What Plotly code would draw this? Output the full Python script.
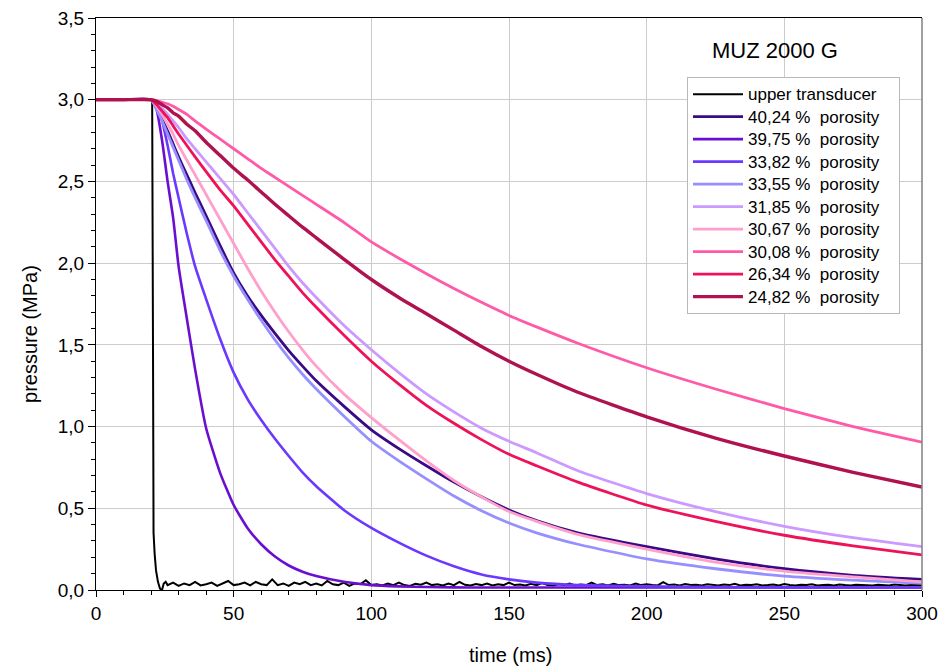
import plotly.graph_objects as go

# ---- data ----
time_ms = [0, 10, 20, 22, 24, 26, 28, 30, 33, 36, 40, 45, 50, 55, 60, 65, 70, 75, 80,
           90, 100, 110, 120, 130, 140, 150, 160, 175, 200, 225, 250, 275, 300]

p_4024 = [3.0, 3.0, 3.0, 2.95, 2.88, 2.81, 2.73, 2.65, 2.54, 2.43, 2.29, 2.11, 1.94, 1.80, 1.68, 1.57, 1.465, 1.37, 1.28,
          1.125, 0.98, 0.865, 0.76, 0.66, 0.57, 0.49, 0.425, 0.35, 0.265, 0.19, 0.13, 0.09, 0.065]
p_3975 = [3.0, 3.0, 3.0, 2.94, 2.75, 2.50, 2.28, 1.98, 1.66, 1.35, 0.99, 0.72, 0.52, 0.38, 0.28, 0.205, 0.15, 0.112, 0.085,
          0.05, 0.03, 0.022, 0.018, 0.016, 0.015, 0.015, 0.015, 0.015, 0.015, 0.015, 0.015, 0.015, 0.015]
p_3382 = [3.0, 3.0, 3.0, 2.96, 2.87, 2.72, 2.55, 2.40, 2.18, 1.98, 1.78, 1.54, 1.33, 1.17, 1.04, 0.925, 0.82, 0.72, 0.635,
          0.49, 0.38, 0.29, 0.21, 0.145, 0.095, 0.065, 0.045, 0.03, 0.022, 0.018, 0.016, 0.015, 0.015]
p_3355 = [3.0, 3.0, 3.0, 2.94, 2.87, 2.79, 2.71, 2.63, 2.51, 2.40, 2.26, 2.08, 1.92, 1.78, 1.65, 1.53, 1.42, 1.32, 1.23,
          1.065, 0.91, 0.79, 0.68, 0.575, 0.485, 0.41, 0.35, 0.28, 0.19, 0.13, 0.085, 0.06, 0.04]
p_3185 = [3.0, 3.0, 3.0, 2.98, 2.95, 2.91, 2.87, 2.83, 2.76, 2.70, 2.62, 2.52, 2.42, 2.31, 2.20, 2.09, 1.98, 1.88, 1.79,
          1.62, 1.47, 1.33, 1.20, 1.09, 0.99, 0.91, 0.84, 0.73, 0.59, 0.48, 0.39, 0.32, 0.265]
p_3067 = [3.0, 3.0, 3.0, 2.96, 2.91, 2.85, 2.79, 2.72, 2.63, 2.54, 2.42, 2.27, 2.12, 1.97, 1.83, 1.70, 1.58, 1.47, 1.37,
          1.20, 1.055, 0.92, 0.79, 0.67, 0.57, 0.48, 0.42, 0.34, 0.25, 0.17, 0.115, 0.08, 0.05]
p_3008 = [3.0, 3.0, 3.0, 2.995, 2.985, 2.975, 2.96, 2.94, 2.91, 2.87, 2.82, 2.76, 2.70, 2.64, 2.58, 2.525, 2.47, 2.415, 2.36,
          2.25, 2.13, 2.03, 1.935, 1.845, 1.76, 1.68, 1.61, 1.51, 1.36, 1.23, 1.11, 1.00, 0.905]
p_2634 = [3.0, 3.0, 3.0, 2.97, 2.93, 2.89, 2.84, 2.79, 2.72, 2.65, 2.56, 2.45, 2.35, 2.24, 2.13, 2.02, 1.92, 1.82, 1.73,
          1.56, 1.40, 1.26, 1.13, 1.02, 0.92, 0.83, 0.76, 0.66, 0.52, 0.42, 0.335, 0.27, 0.215]
p_2482 = [3.0, 3.0, 3.0, 2.99, 2.97, 2.95, 2.92, 2.90, 2.85, 2.81, 2.74, 2.66, 2.58, 2.51, 2.435, 2.36, 2.29, 2.22, 2.155,
          2.025, 1.90, 1.79, 1.69, 1.59, 1.49, 1.40, 1.32, 1.21, 1.06, 0.93, 0.82, 0.72, 0.63]

# upper transducer: fast drop, then small noisy signal
upper_t_drop = [0, 20.4, 20.7, 20.9, 21.3, 21.8, 22.5, 23.2, 23.9, 24.6, 25.3]
upper_p_drop = [3.0, 3.0, 1.5, 0.35, 0.22, 0.12, 0.05, 0.01, -0.005, 0.04, 0.05]
upper_noise = [0.03, 0.045, 0.025, 0.04, 0.03, 0.05, 0.028, 0.035, 0.045, 0.025, 0.04, 0.055, 0.03, 0.035,
               0.045, 0.028, 0.05, 0.035, 0.03, 0.065, 0.03, 0.04, 0.025, 0.045, 0.035, 0.05, 0.03, 0.04,
               0.028, 0.055, 0.035, 0.03, 0.045, 0.025, 0.04, 0.035, 0.06, 0.03,
               0.035, 0.028, 0.04, 0.03, 0.045, 0.03, 0.025, 0.038, 0.032, 0.045,
               0.03, 0.035, 0.028, 0.04, 0.03, 0.05, 0.032, 0.028, 0.036, 0.03,
               0.04, 0.028, 0.035, 0.03, 0.045, 0.03, 0.033, 0.028, 0.038, 0.03,
               0.042, 0.03, 0.028, 0.035, 0.03, 0.04, 0.028, 0.033, 0.03, 0.045,
               0.03, 0.035, 0.028, 0.038, 0.03, 0.032, 0.028, 0.04, 0.03, 0.035,
               0.03, 0.028, 0.048, 0.03, 0.033, 0.028, 0.036, 0.03, 0.032, 0.028,
               0.035, 0.03, 0.028, 0.033, 0.03, 0.038, 0.028, 0.032, 0.03, 0.035,
               0.028, 0.03, 0.033, 0.028, 0.036, 0.03, 0.028, 0.032, 0.03, 0.035,
               0.028, 0.03, 0.032, 0.028, 0.034, 0.03, 0.028, 0.032, 0.03, 0.03,
               0.028, 0.032, 0.03, 0.028, 0.033, 0.03, 0.028, 0.03, 0.032, 0.03]
upper_noise_t = [26 + 2 * i for i in range(len(upper_noise))]

labels = ["upper transducer",
          "40,24 %\u00a0 porosity", "39,75 %\u00a0 porosity", "33,82 %\u00a0 porosity",
          "33,55 %\u00a0 porosity", "31,85 %\u00a0 porosity", "30,67 %\u00a0 porosity",
          "30,08 %\u00a0 porosity", "26,34 %\u00a0 porosity", "24,82 %\u00a0 porosity"]
series = [p_4024, p_3975, p_3382, p_3355, p_3185, p_3067, p_3008, p_2634, p_2482]
colors = ["#3a0a86", "#6a0fd0", "#6a38ff", "#9690ff", "#cc99ff", "#ffa0cc",
          "#ff5aa8", "#ee1258", "#b0124f"]
widths = [2.8, 2.6, 2.6, 2.8, 2.8, 2.8, 2.8, 2.8, 3.4]


def legend_name(s):
    # larger glyphs while keeping the legend row spacing of the reference
    return "<span style='font-size:17px'>" + s + "\u00a0\u00a0\u00a0</span>"


fig = go.Figure()
fig.add_trace(go.Scatter(x=upper_t_drop + upper_noise_t, y=upper_p_drop + upper_noise,
                         mode="lines", name=legend_name(labels[0]),
                         line=dict(color="black", width=2)))
for lab, ys, c, w in zip(labels[1:], series, colors, widths):
    fig.add_trace(go.Scatter(x=time_ms, y=ys, mode="lines", name=legend_name(lab),
                             line=dict(color=c, width=w, shape="spline", smoothing=0.5)))

fig.update_layout(
    width=940, height=670, autosize=False,
    margin=dict(l=96, r=18, t=18, b=80),
    plot_bgcolor="white", paper_bgcolor="white",
    separators=",.",
    font=dict(family="Arial, Liberation Sans, sans-serif", size=19, color="black"),
    showlegend=True,
    legend=dict(x=0.7155, y=0.897, xanchor="left", yanchor="top",
                bgcolor="white", bordercolor="#b8b8b8", borderwidth=1,
                font=dict(size=15), tracegroupgap=0, itemwidth=50),
    annotations=[
        dict(text="MUZ 2000 G", xref="paper", yref="paper", x=0.822, y=0.944,
             xanchor="center", yanchor="middle", showarrow=False, font=dict(size=22)),
        dict(text="pressure (MPa)", xref="paper", yref="paper", x=-0.0799, y=0.4476,
             xanchor="center", yanchor="middle",
             textangle=-90, showarrow=False, font=dict(size=20)),
        dict(text="time (ms)", xref="paper", yref="paper", x=0.5024, y=-0.1136,
             xanchor="center", yanchor="middle", showarrow=False, font=dict(size=20)),
    ],
    shapes=[dict(type="line", xref="paper", yref="paper", x0=1, x1=1, y0=0, y1=1,
                 line=dict(color="#808080", width=1.5))],
)
fig.update_xaxes(range=[0, 300], tick0=0, dtick=50, ticks="outside", ticklen=6,
                 tickcolor="black", showgrid=True, gridcolor="#cccccc", gridwidth=1,
                 showline=True, linecolor="black", linewidth=1, mirror=True, zeroline=False,
                 automargin=False,
                 minor=dict(dtick=10, ticks="outside", ticklen=4, tickcolor="black", showgrid=False))
fig.update_yaxes(range=[0, 3.5], tick0=0, dtick=0.5, tickformat=".1f", ticks="outside", ticklen=7,
                 tickcolor="black", showgrid=True, gridcolor="#cccccc", gridwidth=1,
                 showline=True, linecolor="black", linewidth=1, mirror=False, zeroline=False,
                 automargin=False,
                 minor=dict(dtick=0.1, ticks="outside", ticklen=4, tickcolor="black", showgrid=False))

fig.write_html("out.html", config={"responsive": False},
               post_script="document.documentElement.style.overflow='hidden';"
                           "document.body.style.overflow='hidden';document.body.style.margin='0';")
